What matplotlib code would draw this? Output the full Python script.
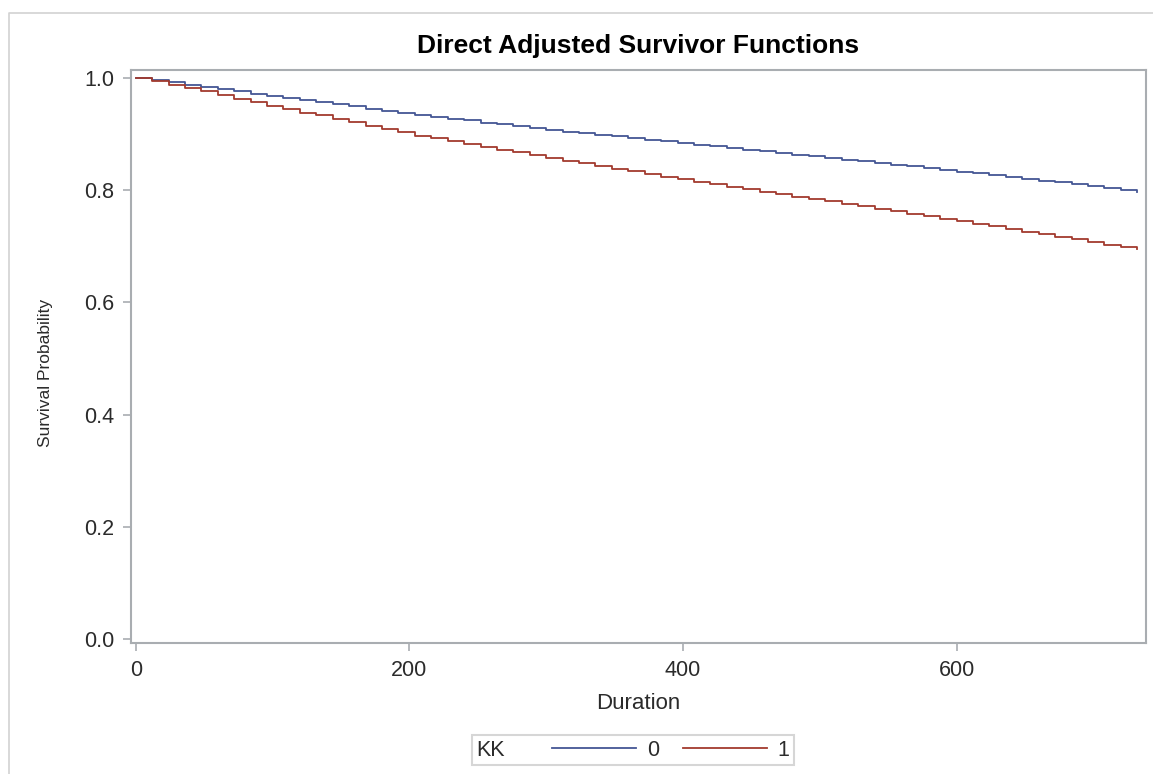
import matplotlib.pyplot as plt
from matplotlib.lines import Line2D
from matplotlib.offsetbox import DrawingArea

plt.rcParams['font.family'] = ['Liberation Sans', 'DejaVu Sans']

# event times (days)
duration = [0, 12, 24, 36, 48, 60, 72, 84, 96, 108, 120, 132, 144, 156, 168,
            180, 192, 204, 216, 228, 240, 252, 264, 276, 288, 300, 312, 324,
            336, 348, 360, 372, 384, 396, 408, 420, 432, 444, 456, 468, 480,
            492, 504, 516, 528, 540, 552, 564, 576, 588, 600, 612, 624, 636,
            648, 660, 672, 684, 696, 708, 720, 732]

# direct adjusted survival, KK = 0
surv_kk0 = [1.000, 0.996, 0.992, 0.988, 0.984, 0.980, 0.976, 0.972, 0.968,
            0.964, 0.961, 0.957, 0.953, 0.949, 0.945, 0.941, 0.938, 0.934,
            0.931, 0.927, 0.924, 0.920, 0.917, 0.914, 0.910, 0.907, 0.904,
            0.901, 0.898, 0.896, 0.893, 0.890, 0.887, 0.884, 0.881, 0.878,
            0.875, 0.872, 0.869, 0.866, 0.863, 0.860, 0.857, 0.854, 0.851,
            0.848, 0.845, 0.842, 0.839, 0.836, 0.833, 0.830, 0.827, 0.823,
            0.820, 0.817, 0.814, 0.810, 0.807, 0.804, 0.800, 0.796]

# direct adjusted survival, KK = 1
surv_kk1 = [1.000, 0.994, 0.988, 0.982, 0.976, 0.970, 0.963, 0.957, 0.950,
            0.944, 0.938, 0.933, 0.927, 0.921, 0.915, 0.909, 0.903, 0.897,
            0.892, 0.887, 0.882, 0.877, 0.872, 0.867, 0.862, 0.857, 0.852,
            0.848, 0.843, 0.838, 0.834, 0.829, 0.824, 0.820, 0.815, 0.811,
            0.806, 0.802, 0.797, 0.793, 0.788, 0.784, 0.780, 0.775, 0.771,
            0.767, 0.762, 0.758, 0.754, 0.749, 0.745, 0.740, 0.736, 0.731,
            0.726, 0.722, 0.717, 0.712, 0.708, 0.703, 0.699, 0.695]

groups = ['0', '1']
colors = ['#445694', '#A23A2E']
frame_col = '#a9adb1'
text_col = '#2b2b2b'

fig = plt.figure(figsize=(11.53, 7.74), dpi=100)
ax = fig.add_axes([0.1134, 0.1693, 0.8806, 0.7403])

ax.step(duration, surv_kk0, where='post', color=colors[0], lw=1.3)
ax.step(duration, surv_kk1, where='post', color=colors[1], lw=1.3)

ax.set_xlim(-3.65, 738.5)
ax.set_ylim(-0.007, 1.014)
ax.set_xticks([0, 200, 400, 600])
ax.set_yticks([0.0, 0.2, 0.4, 0.6, 0.8, 1.0])
ax.set_yticklabels([f'{v:.1f}' for v in [0.0, 0.2, 0.4, 0.6, 0.8, 1.0]])

for s in ax.spines.values():
    s.set_color(frame_col)
    s.set_linewidth(1.5)
ax.tick_params(direction='out', length=6, width=1.2, color=frame_col,
               labelcolor=text_col, labelsize=15.5, pad=6)

ax.set_title('Direct Adjusted Survivor Functions', fontsize=19,
             fontweight='bold', color='black', pad=12)
ax.set_xlabel('Duration', fontsize=16, color=text_col)
ax.xaxis.set_label_coords(0.5, -0.088)
ax.set_ylabel('Survival Probability', fontsize=12.5, color=text_col)
ax.yaxis.set_label_coords(-0.0765, 0.471)

# legend with the group title sitting on the left, SAS style
handles = [Line2D([], [], color=c, lw=1.3) for c in colors]
leg = ax.legend(handles, groups, title='KK', ncols=2, loc='center',
                bbox_to_anchor=(633 / 1153, 1 - 750 / 774),
                bbox_transform=fig.transFigure, frameon=True, fancybox=False,
                edgecolor='#cccccc', fontsize=15.5, title_fontsize=15.5,
                handlelength=3.9, handletextpad=0.5, columnspacing=1.0,
                borderpad=0.22, borderaxespad=0)
leg.get_frame().set_linewidth(1.5)
for t in leg.get_texts():
    t.set_color(text_col)
leg.get_title().set_color(text_col)
leg._legend_box._children = [leg._legend_handle_box]
leg._legend_handle_box._children[:0] = [leg._legend_title_box, DrawingArea(0, 0)]
leg._legend_handle_box.sep = 17

# outer graph border (only top and left are inside the crop)
fig.add_artist(Line2D([8.5 / 1153, 8.5 / 1153, 1.0], [0.0, 1 - 12.5 / 774, 1 - 12.5 / 774],
                      transform=fig.transFigure, color='#d2d2d2', lw=1.2))

fig.savefig('out.png', dpi=100)
